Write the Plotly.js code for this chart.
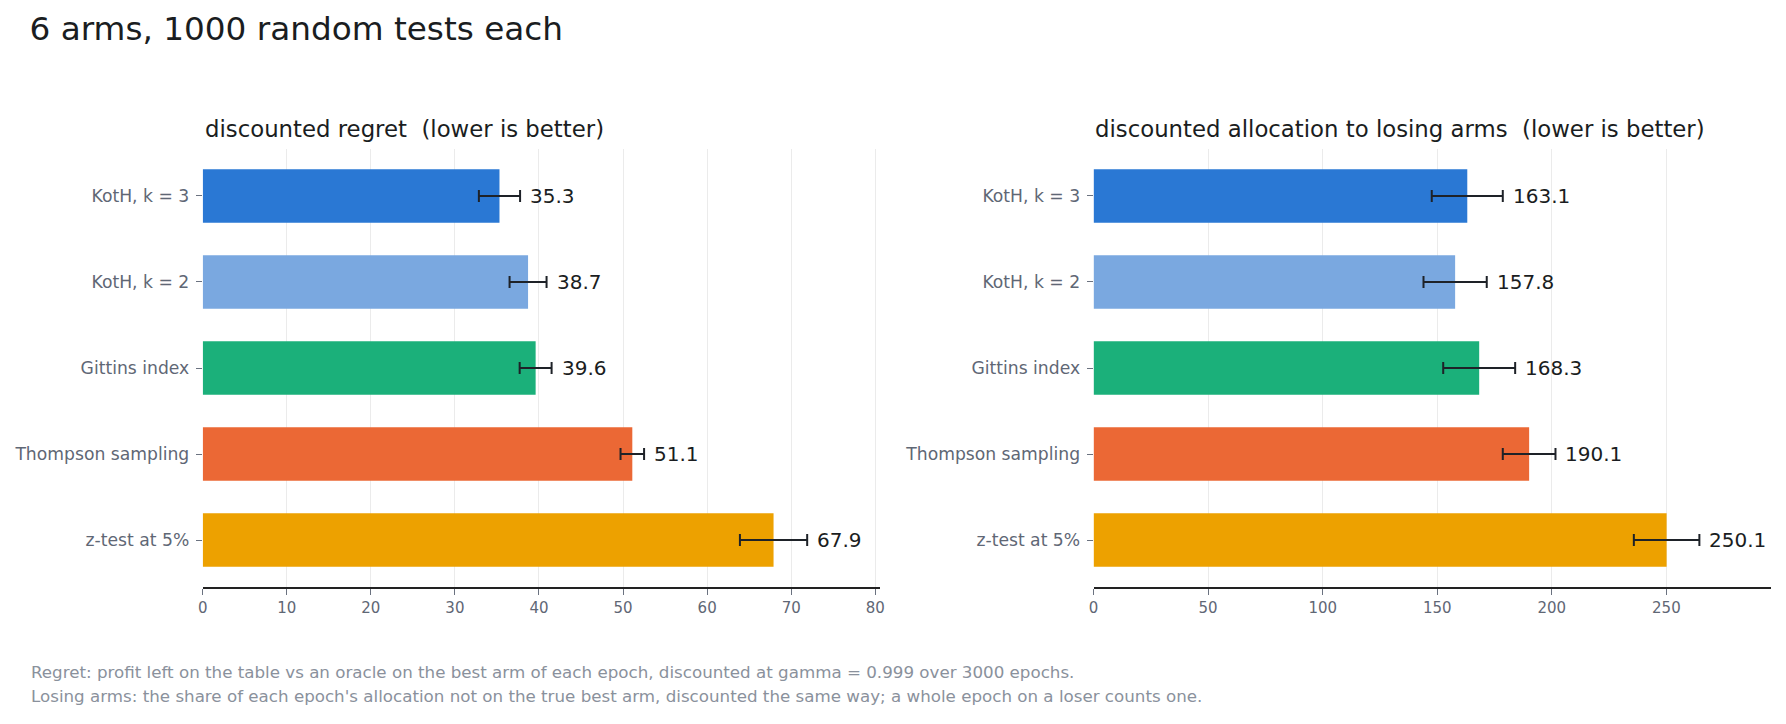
<!DOCTYPE html>
<html>
<head>
<meta charset="utf-8">
<script src="https://cdn.plot.ly/plotly-3.0.1.min.js"></script>
<style>html,body{margin:0;padding:0;background:#fff;}#chart{width:1786px;height:724px;}</style>
</head>
<body>
<div id="chart"></div>
<script>
const methods = ["KotH, k = 3", "KotH, k = 2", "Gittins index", "Thompson sampling", "z-test at 5%"];
const colors = ["#2a78d4", "#7aa8e0", "#1bb07a", "#eb6835", "#eda100"];
const regret = [35.3, 38.7, 39.6, 51.1, 67.9];
const regretErr = [2.45, 2.2, 1.9, 1.4, 4.0];
const losing = [163.1, 157.8, 168.3, 190.1, 250.1];
const losingErr = [15.5, 13.8, 15.7, 11.5, 14.3];

const FONT = "DejaVu Sans, sans-serif";
const TICKC = "#5f6775";

function barTrace(vals, errs, xa, ya) {
  return {
    type: "bar", orientation: "h",
    x: vals, y: methods, xaxis: xa, yaxis: ya,
    width: 0.62,
    marker: {color: colors, line: {width: 0}},
    error_x: {type: "data", array: errs, visible: true, color: "#1e2228", thickness: 2, width: 6},
    hoverinfo: "x+y", showlegend: false
  };
}

function xAxis(domain, range, dtick) {
  return {
    domain: domain, range: range, dtick: dtick, tick0: 0,
    showgrid: true, gridcolor: "#ebebeb", gridwidth: 1,
    zeroline: false,
    showline: true, linecolor: "#222222", linewidth: 2,
    ticks: "outside", ticklen: 6, tickwidth: 1, tickcolor: "#6b7280",
    tickfont: {family: FONT, size: 15, color: TICKC},
    fixedrange: true
  };
}
function yAxis(anchor) {
  return {
    domain: [0.1896, 0.7938], anchor: anchor,
    type: "category", categoryarray: methods, categoryorder: "array",
    range: [4.543, -0.543],
    showgrid: false, zeroline: false, showline: false,
    ticks: "outside", ticklen: 6, tickwidth: 1, tickcolor: "#6b7280",
    ticklabelstandoff: 3,
    tickfont: {family: FONT, size: 17.2, color: TICKC},
    fixedrange: true
  };
}

const annotations = [];
function valueLabels(vals, errs, xref, yref) {
  vals.forEach((v, i) => {
    annotations.push({
      x: v + errs[i], y: methods[i], xref: xref, yref: yref,
      text: v.toFixed(1), showarrow: false, xanchor: "left", yanchor: "middle",
      xshift: 8, font: {family: FONT, size: 20, color: "#1a1d21"}
    });
  });
}
valueLabels(regret, regretErr, "x", "y");
valueLabels(losing, losingErr, "x2", "y2");

annotations.push({
  text: "discounted regret  (lower is better)", xref: "paper", yref: "paper",
  x: 0.1135, y: 0.8222, xanchor: "left", yanchor: "middle", showarrow: false,
  font: {family: FONT, size: 22.8, color: "#1a1d21"}
});
annotations.push({
  text: "discounted allocation to losing arms  (lower is better)", xref: "paper", yref: "paper",
  x: 0.6121, y: 0.8222, xanchor: "left", yanchor: "middle", showarrow: false,
  font: {family: FONT, size: 22.8, color: "#1a1d21"}
});
const footer = [
  "Regret: profit left on the table vs an oracle on the best arm of each epoch, discounted at gamma = 0.999 over 3000 epochs.",
  "Losing arms: the share of each epoch's allocation not on the true best arm, discounted the same way; a whole epoch on a loser counts one."
];
const footerY = [0.0718, 0.0387];
footer.forEach((t, i) => {
  annotations.push({
    text: t, xref: "paper", yref: "paper", x: 0.0162, y: footerY[i],
    xanchor: "left", yanchor: "middle", showarrow: false,
    font: {family: FONT, size: 16.7, color: "#8a919c"}
  });
});

const layout = {
  width: 1786, height: 724,
  margin: {l: 0, r: 0, t: 0, b: 0},
  paper_bgcolor: "#ffffff", plot_bgcolor: "#ffffff",
  font: {family: FONT},
  title: {text: "6 arms, 1000 random tests each", xref: "container", yref: "container",
          x: 0.0165, xanchor: "left", y: 0.9606, yanchor: "middle",
          font: {family: FONT, size: 32.7, color: "#1a1d21"}},
  xaxis: xAxis([0.1135, 0.4929], [0, 80.6], 10),
  yaxis: yAxis("x"),
  xaxis2: xAxis([0.6123, 0.9914], [0, 295.5], 50),
  yaxis2: yAxis("x2"),
  annotations: annotations,
  showlegend: false
};
layout.xaxis.anchor = "y";
layout.xaxis2.anchor = "y2";

Plotly.newPlot("chart", [barTrace(regret, regretErr, "x", "y"), barTrace(losing, losingErr, "x2", "y2")], layout, {displayModeBar: false, staticPlot: true});
</script>
</body>
</html>
